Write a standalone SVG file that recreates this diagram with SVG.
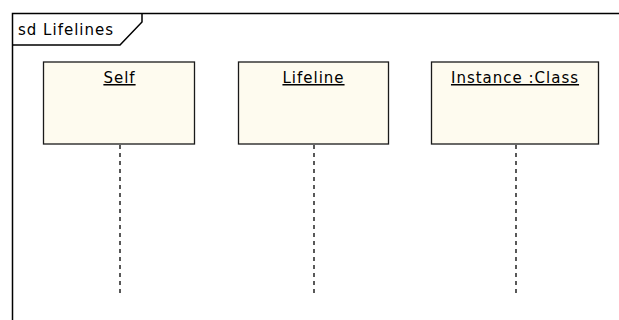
<svg xmlns="http://www.w3.org/2000/svg" width="619" height="320" viewBox="0 0 619 320">
<style>
.frame{fill:none;stroke:#000;stroke-width:1.5}
.box{fill:#FEFBEF;stroke:#1a1a1a;stroke-width:1.3}
.lbl{font-family:"DejaVu Sans","Liberation Sans",sans-serif;font-size:15px;letter-spacing:1px;fill:#000;text-anchor:middle;text-decoration:underline}
.ttl{font-family:"DejaVu Sans","Liberation Sans",sans-serif;font-size:15px;letter-spacing:1px;fill:#000}
.life{stroke:#000;stroke-width:1.3;stroke-dasharray:4 4;fill:none}
</style>
<rect x="0" y="0" width="619" height="320" fill="#fff"/>
<g id="frame">
<path class="frame" d="M12.5 330 V13.5 H630"/>
<path class="frame" d="M12.5 45 H120 L142 22 V13.5"/>
<text class="ttl" x="18" y="35">sd Lifelines</text>
</g>
<g id="connectors">
<line class="life" x1="120" y1="145" x2="120" y2="294"/>
<line class="life" x1="314" y1="145" x2="314" y2="294"/>
<line class="life" x1="516" y1="145" x2="516" y2="294"/>
</g>
<g id="self">
<rect class="box" x="43.5" y="62" width="151" height="82"/>
<text class="lbl" x="119.5" y="83">Self</text>
</g>
<g id="lifeline">
<rect class="box" x="238.5" y="62" width="150" height="82"/>
<text class="lbl" x="313.5" y="83">Lifeline</text>
</g>
<g id="instance">
<rect class="box" x="431.5" y="62" width="167" height="82"/>
<text class="lbl" x="515" y="83">Instance :Class</text>
</g>
</svg>
